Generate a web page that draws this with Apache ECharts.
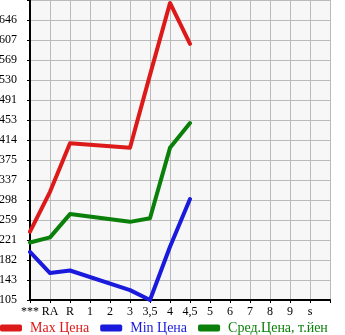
<!DOCTYPE html>
<html><head><meta charset="utf-8">
<script src="https://cdn.jsdelivr.net/npm/echarts@6/dist/echarts.min.js"></script>
<style>html,body{margin:0;padding:0;background:#fff}#c{width:345px;height:335px}</style>
</head><body><div id="c"></div>
<script>
var categories = ['***','RA','R','1','2','3','3,5','4','4,5','5','6','7','8','9','s',''];
var maxPrice = [237, 314, 408, null, null, 399, 540, 679, 600, null, null, null, null, null, null, null];
var minPrice = [198, 157, 162, null, null, 124, 105, 208, 300, null, null, null, null, null, null, null];
var avgPrice = [216, 226, 271, null, null, 256, 263, 399, 447, null, null, null, null, null, null, null];
var yTicks = ['105','143','182','221','259','298','337','375','414','453','491','530','569','607','646'];
var yMin = 105, yStep = 541/14;
var font = '"Liberation Serif","DejaVu Serif",serif';
var names = ['Max Цена','Min Цена','Сред.Цена, т.йен'];
var colors = ['#dd1a1a','#1a1add','#0a800a'];
var chart = echarts.init(document.getElementById('c'));
function ser(name, data, color){
  return {name:name, type:'line', data:data, connectNulls:true, symbol:'none', silent:true,
    lineStyle:{color:color, width:4, cap:'round', join:'round'}, itemStyle:{color:color}};
}
chart.setOption({
  animation:false,
  grid:{left:30, right:15, top:0, bottom:35, show:true, backgroundColor:'#f7f7f7', borderWidth:0,
    containLabel:false, outerBoundsMode:'none'},
  legend:{top:321, left:0, itemGap:11, itemWidth:22, itemHeight:7, icon:'roundRect', padding:0,
    data:names.map(function(n,i){return {name:n, textStyle:{color:colors[i]}};}),
    textStyle:{fontFamily:font, fontSize:14, padding:[0,0,0,3]}},
  xAxis:{type:'category', data:categories, boundaryGap:false,
    axisLine:{lineStyle:{color:'#000', width:2}},
    axisTick:{show:true, length:3, lineStyle:{color:'#000'}, interval:0},
    axisLabel:{color:'#000', fontFamily:font, fontSize:12, interval:0, margin:6},
    splitLine:{show:true, interval:0, lineStyle:{color:'#bbb', width:1}}},
  yAxis:{type:'value', min:yMin, max:yMin+15*yStep, interval:yStep,
    axisLine:{show:true, lineStyle:{color:'#000', width:2}},
    axisTick:{show:true, length:3, lineStyle:{color:'#000'}},
    axisLabel:{color:'#000', fontFamily:font, fontSize:12, margin:13, showMaxLabel:false,
      formatter:function(v){var i=Math.round((v-yMin)/yStep); return yTicks[i]||'';}},
    splitLine:{show:true, lineStyle:{color:'#bbb', width:1}}},
  series:[ser(names[0],maxPrice,colors[0]), ser(names[1],minPrice,colors[1]), ser(names[2],avgPrice,colors[2])]
});
</script></body></html>
